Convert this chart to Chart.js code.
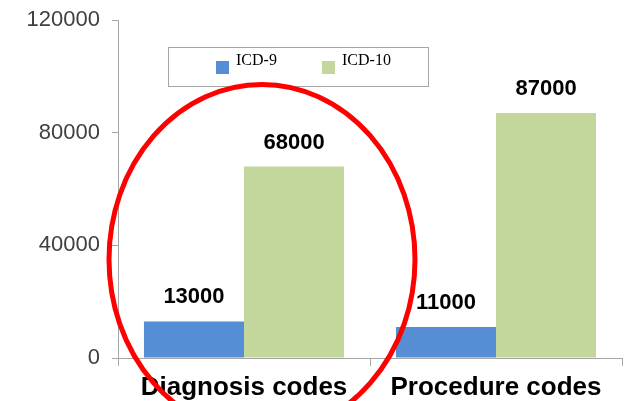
<!DOCTYPE html>
<html>
<head>
<meta charset="utf-8">
<script src="https://cdn.jsdelivr.net/npm/chart.js@4"></script>
<style>
  html, body { margin: 0; padding: 0; background: #fff; }
  #wrap { width: 624px; height: 401px; }
</style>
</head>
<body>
<div id="wrap"><canvas id="barChart"></canvas></div>
<script>
// Data
const categories = ['Diagnosis codes', 'Procedure codes'];
const seriesNames = ['ICD-9', 'ICD-10'];
const icd9Values = [13000, 11000];
const icd10Values = [68000, 87000];
const yTicks = [0, 40000, 80000, 120000];
const barColors = ['#558ed5', '#c3d69b'];

// value labels above bars
const valueLabels = {
    id: 'valueLabels',
    afterDatasetsDraw(chart) {
        const ctx = chart.ctx;
        ctx.save();
        ctx.font = 'bold 22px "Liberation Sans", Arial, sans-serif';
        ctx.fillStyle = '#000';
        ctx.textAlign = 'center';
        ctx.textBaseline = 'middle';
        chart.data.datasets.forEach((ds, i) => {
            chart.getDatasetMeta(i).data.forEach((bar, j) => {
                ctx.fillText(String(ds.data[j]), bar.x, bar.y - 24);
            });
        });
        ctx.restore();
    }
};

// boxed legend inside the plot (serif, like the original)
const boxLegend = {
    id: 'boxLegend',
    afterDraw(chart) {
        const ctx = chart.ctx;
        const a = chart.chartArea;
        const left = a.left + 50, top = a.top + 27, w = 260, h = 39;
        ctx.save();
        ctx.strokeStyle = '#a6a6a6';
        ctx.lineWidth = 1;
        ctx.strokeRect(left + 0.5, top + 0.5, w, h);
        ctx.font = '16px "Liberation Serif", "DejaVu Serif", serif';
        ctx.textBaseline = 'alphabetic';
        ctx.textAlign = 'left';
        const xs = [left + 48, left + 154];
        chart.data.datasets.forEach((ds, i) => {
            ctx.fillStyle = ds.backgroundColor;
            ctx.fillRect(xs[i], top + 14, 13, 13);
            ctx.fillStyle = '#000';
            ctx.fillText(ds.label, xs[i] + 20, top + 18);
        });
        ctx.restore();
    }
};

// red ellipse around the first category
const ellipseMark = {
    id: 'ellipseMark',
    afterDraw(chart) {
        const ctx = chart.ctx;
        const x = chart.scales.x, y = chart.scales.y;
        const cx = x.getPixelForValue(0) + 18;
        const cy = y.getPixelForValue(35000);
        ctx.save();
        ctx.strokeStyle = '#ff0000';
        ctx.lineWidth = 5;
        ctx.beginPath();
        ctx.ellipse(cx, cy, 153, 175, 0, 0, Math.PI * 2);
        ctx.stroke();
        ctx.restore();
    }
};

const chart = new Chart(document.getElementById('barChart'), {
    type: 'bar',
    data: {
        labels: categories,
        datasets: [
            { label: seriesNames[0], data: icd9Values, backgroundColor: barColors[0] },
            { label: seriesNames[1], data: icd10Values, backgroundColor: barColors[1] }
        ]
    },
    options: {
        responsive: true,
        maintainAspectRatio: false,
        animation: false,
        datasets: { bar: { categoryPercentage: 0.794, barPercentage: 1 } },
        layout: { padding: { top: 0, right: 2, left: 0, bottom: 0 } },
        plugins: {
            legend: { display: false },
            tooltip: { enabled: false }
        },
        scales: {
            y: {
                min: 0,
                max: 120000,
                afterBuildTicks: (axis) => { axis.ticks = yTicks.map(v => ({ value: v })); },
                afterFit: (axis) => {
                    axis.width = 118;
                    axis.paddingTop = 20;
                    axis.paddingBottom = 10;
                },
                grid: {
                    drawOnChartArea: false,
                    drawTicks: true,
                    tickLength: 6,
                    color: '#a6a6a6'
                },
                border: { color: '#a6a6a6', width: 1 },
                ticks: {
                    color: '#404040',
                    padding: 12,
                    callback: (v) => String(v),
                    font: { size: 22, family: '"Liberation Sans", Arial, sans-serif' }
                }
            },
            x: {
                afterFit: (axis) => { axis.height = 43; },
                grid: {
                    offset: true,
                    drawOnChartArea: false,
                    drawTicks: true,
                    tickLength: 8,
                    color: '#a6a6a6'
                },
                border: { color: '#a6a6a6', width: 1 },
                ticks: {
                    color: '#000',
                    padding: 6,
                    font: { size: 26, weight: 'bold', family: '"Liberation Sans", Arial, sans-serif' }
                }
            }
        }
    },
    plugins: [valueLabels, boxLegend, ellipseMark]
});
</script>
</body>
</html>
